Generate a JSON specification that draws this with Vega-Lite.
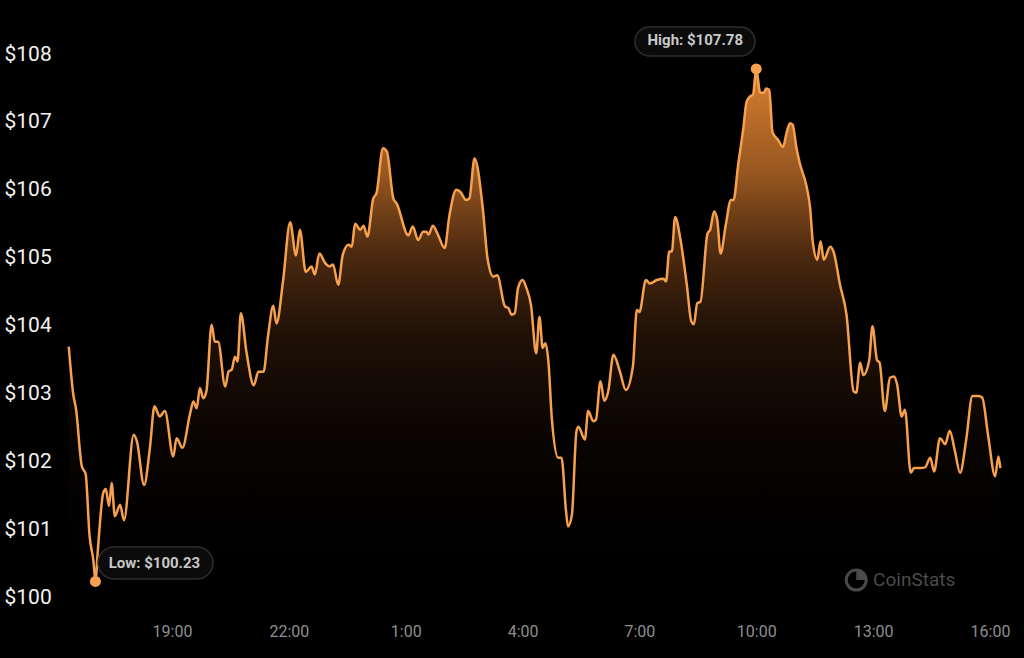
{
  "$schema": "https://vega.github.io/schema/vega-lite/v6.json",
  "width": 932,
  "height": 543,
  "autosize": {"type": "none"},
  "padding": {"left": 69, "top": 54, "right": 23, "bottom": 61},
  "background": "#000000",
  "config": {"view": {"stroke": null}, "font": "Roboto"},
  "datasets": {
    "price": [
      {"t": "2024-05-01T16:21", "price": 103.69},
      {"t": "2024-05-01T16:28", "price": 102.98},
      {"t": "2024-05-01T16:32", "price": 102.78},
      {"t": "2024-05-01T16:41", "price": 101.93},
      {"t": "2024-05-01T16:47", "price": 101.81},
      {"t": "2024-05-01T16:53", "price": 100.90},
      {"t": "2024-05-01T16:59", "price": 100.53},
      {"t": "2024-05-01T17:02", "price": 100.23},
      {"t": "2024-05-01T17:06", "price": 100.72},
      {"t": "2024-05-01T17:14", "price": 101.53},
      {"t": "2024-05-01T17:18", "price": 101.59},
      {"t": "2024-05-01T17:23", "price": 101.34},
      {"t": "2024-05-01T17:27", "price": 101.68},
      {"t": "2024-05-01T17:32", "price": 101.19},
      {"t": "2024-05-01T17:40", "price": 101.36},
      {"t": "2024-05-01T17:46", "price": 101.13},
      {"t": "2024-05-01T18:01", "price": 102.39},
      {"t": "2024-05-01T18:06", "price": 102.29},
      {"t": "2024-05-01T18:17", "price": 101.65},
      {"t": "2024-05-01T18:26", "price": 102.20},
      {"t": "2024-05-01T18:33", "price": 102.81},
      {"t": "2024-05-01T18:41", "price": 102.66},
      {"t": "2024-05-01T18:49", "price": 102.74},
      {"t": "2024-05-01T19:02", "price": 102.07},
      {"t": "2024-05-01T19:07", "price": 102.34},
      {"t": "2024-05-01T19:16", "price": 102.20},
      {"t": "2024-05-01T19:28", "price": 102.71},
      {"t": "2024-05-01T19:33", "price": 102.88},
      {"t": "2024-05-01T19:38", "price": 102.78},
      {"t": "2024-05-01T19:43", "price": 103.08},
      {"t": "2024-05-01T19:48", "price": 102.93},
      {"t": "2024-05-01T19:53", "price": 103.03},
      {"t": "2024-05-01T20:01", "price": 104.01},
      {"t": "2024-05-01T20:06", "price": 103.76},
      {"t": "2024-05-01T20:11", "price": 103.76},
      {"t": "2024-05-01T20:22", "price": 103.10},
      {"t": "2024-05-01T20:27", "price": 103.32},
      {"t": "2024-05-01T20:32", "price": 103.35},
      {"t": "2024-05-01T20:37", "price": 103.54},
      {"t": "2024-05-01T20:41", "price": 103.47},
      {"t": "2024-05-01T20:46", "price": 104.18},
      {"t": "2024-05-01T20:55", "price": 103.59},
      {"t": "2024-05-01T21:06", "price": 103.12},
      {"t": "2024-05-01T21:13", "price": 103.32},
      {"t": "2024-05-01T21:21", "price": 103.32},
      {"t": "2024-05-01T21:28", "price": 103.85},
      {"t": "2024-05-01T21:36", "price": 104.29},
      {"t": "2024-05-01T21:41", "price": 104.03},
      {"t": "2024-05-01T21:51", "price": 104.65},
      {"t": "2024-05-01T22:02", "price": 105.52},
      {"t": "2024-05-01T22:11", "price": 105.03},
      {"t": "2024-05-01T22:17", "price": 105.41},
      {"t": "2024-05-01T22:26", "price": 104.79},
      {"t": "2024-05-01T22:35", "price": 104.87},
      {"t": "2024-05-01T22:40", "price": 104.75},
      {"t": "2024-05-01T22:47", "price": 105.06},
      {"t": "2024-05-01T22:56", "price": 104.92},
      {"t": "2024-05-01T23:03", "price": 104.87},
      {"t": "2024-05-01T23:08", "price": 104.90},
      {"t": "2024-05-01T23:16", "price": 104.60},
      {"t": "2024-05-01T23:23", "price": 105.04},
      {"t": "2024-05-01T23:32", "price": 105.19},
      {"t": "2024-05-01T23:37", "price": 105.16},
      {"t": "2024-05-01T23:42", "price": 105.50},
      {"t": "2024-05-01T23:50", "price": 105.41},
      {"t": "2024-05-01T23:55", "price": 105.47},
      {"t": "2024-05-02T00:01", "price": 105.31},
      {"t": "2024-05-02T00:10", "price": 105.87},
      {"t": "2024-05-02T00:15", "price": 105.95},
      {"t": "2024-05-02T00:25", "price": 106.61},
      {"t": "2024-05-02T00:31", "price": 106.56},
      {"t": "2024-05-02T00:41", "price": 105.87},
      {"t": "2024-05-02T00:46", "price": 105.80},
      {"t": "2024-05-02T01:04", "price": 105.33},
      {"t": "2024-05-02T01:11", "price": 105.46},
      {"t": "2024-05-02T01:19", "price": 105.26},
      {"t": "2024-05-02T01:27", "price": 105.38},
      {"t": "2024-05-02T01:32", "price": 105.38},
      {"t": "2024-05-02T01:35", "price": 105.34},
      {"t": "2024-05-02T01:42", "price": 105.47},
      {"t": "2024-05-02T01:50", "price": 105.33},
      {"t": "2024-05-02T02:00", "price": 105.14},
      {"t": "2024-05-02T02:07", "price": 105.60},
      {"t": "2024-05-02T02:18", "price": 106.00},
      {"t": "2024-05-02T02:24", "price": 105.97},
      {"t": "2024-05-02T02:33", "price": 105.85},
      {"t": "2024-05-02T02:38", "price": 105.87},
      {"t": "2024-05-02T02:46", "price": 106.46},
      {"t": "2024-05-02T02:59", "price": 105.70},
      {"t": "2024-05-02T03:06", "price": 104.99},
      {"t": "2024-05-02T03:15", "price": 104.72},
      {"t": "2024-05-02T03:21", "price": 104.74},
      {"t": "2024-05-02T03:33", "price": 104.28},
      {"t": "2024-05-02T03:38", "price": 104.26},
      {"t": "2024-05-02T03:43", "price": 104.16},
      {"t": "2024-05-02T03:48", "price": 104.18},
      {"t": "2024-05-02T03:53", "price": 104.55},
      {"t": "2024-05-02T04:00", "price": 104.67},
      {"t": "2024-05-02T04:06", "price": 104.55},
      {"t": "2024-05-02T04:13", "price": 104.30},
      {"t": "2024-05-02T04:21", "price": 103.59},
      {"t": "2024-05-02T04:26", "price": 104.13},
      {"t": "2024-05-02T04:31", "price": 103.67},
      {"t": "2024-05-02T04:35", "price": 103.74},
      {"t": "2024-05-02T04:40", "price": 103.45},
      {"t": "2024-05-02T04:45", "price": 102.64},
      {"t": "2024-05-02T04:55", "price": 102.05},
      {"t": "2024-05-02T05:00", "price": 102.05},
      {"t": "2024-05-02T05:07", "price": 101.26},
      {"t": "2024-05-02T05:10", "price": 101.04},
      {"t": "2024-05-02T05:16", "price": 101.21},
      {"t": "2024-05-02T05:23", "price": 102.44},
      {"t": "2024-05-02T05:26", "price": 102.51},
      {"t": "2024-05-02T05:36", "price": 102.32},
      {"t": "2024-05-02T05:41", "price": 102.74},
      {"t": "2024-05-02T05:49", "price": 102.59},
      {"t": "2024-05-02T05:53", "price": 102.61},
      {"t": "2024-05-02T06:00", "price": 103.18},
      {"t": "2024-05-02T06:06", "price": 102.89},
      {"t": "2024-05-02T06:12", "price": 103.03},
      {"t": "2024-05-02T06:20", "price": 103.57},
      {"t": "2024-05-02T06:30", "price": 103.32},
      {"t": "2024-05-02T06:39", "price": 103.05},
      {"t": "2024-05-02T06:50", "price": 103.40},
      {"t": "2024-05-02T06:56", "price": 104.23},
      {"t": "2024-05-02T07:00", "price": 104.20},
      {"t": "2024-05-02T07:10", "price": 104.67},
      {"t": "2024-05-02T07:16", "price": 104.62},
      {"t": "2024-05-02T07:27", "price": 104.67},
      {"t": "2024-05-02T07:37", "price": 104.69},
      {"t": "2024-05-02T07:41", "price": 104.65},
      {"t": "2024-05-02T07:46", "price": 105.09},
      {"t": "2024-05-02T07:50", "price": 105.09},
      {"t": "2024-05-02T07:55", "price": 105.60},
      {"t": "2024-05-02T08:03", "price": 105.28},
      {"t": "2024-05-02T08:13", "price": 104.60},
      {"t": "2024-05-02T08:20", "price": 104.06},
      {"t": "2024-05-02T08:24", "price": 104.02},
      {"t": "2024-05-02T08:29", "price": 104.33},
      {"t": "2024-05-02T08:34", "price": 104.35},
      {"t": "2024-05-02T08:45", "price": 105.36},
      {"t": "2024-05-02T08:49", "price": 105.41},
      {"t": "2024-05-02T08:55", "price": 105.68},
      {"t": "2024-05-02T09:00", "price": 105.55},
      {"t": "2024-05-02T09:05", "price": 105.06},
      {"t": "2024-05-02T09:13", "price": 105.48},
      {"t": "2024-05-02T09:21", "price": 105.85},
      {"t": "2024-05-02T09:25", "price": 105.85},
      {"t": "2024-05-02T09:32", "price": 106.36},
      {"t": "2024-05-02T09:40", "price": 106.90},
      {"t": "2024-05-02T09:45", "price": 107.29},
      {"t": "2024-05-02T09:50", "price": 107.37},
      {"t": "2024-05-02T09:55", "price": 107.40},
      {"t": "2024-05-02T10:00", "price": 107.78},
      {"t": "2024-05-02T10:06", "price": 107.43},
      {"t": "2024-05-02T10:12", "price": 107.43},
      {"t": "2024-05-02T10:15", "price": 107.49},
      {"t": "2024-05-02T10:20", "price": 107.47},
      {"t": "2024-05-02T10:25", "price": 106.85},
      {"t": "2024-05-02T10:34", "price": 106.73},
      {"t": "2024-05-02T10:41", "price": 106.63},
      {"t": "2024-05-02T10:47", "price": 106.85},
      {"t": "2024-05-02T10:52", "price": 106.98},
      {"t": "2024-05-02T10:56", "price": 106.96},
      {"t": "2024-05-02T11:02", "price": 106.61},
      {"t": "2024-05-02T11:07", "price": 106.39},
      {"t": "2024-05-02T11:17", "price": 106.07},
      {"t": "2024-05-02T11:23", "price": 105.73},
      {"t": "2024-05-02T11:27", "price": 105.24},
      {"t": "2024-05-02T11:34", "price": 104.97},
      {"t": "2024-05-02T11:39", "price": 105.24},
      {"t": "2024-05-02T11:44", "price": 104.97},
      {"t": "2024-05-02T11:54", "price": 105.16},
      {"t": "2024-05-02T11:59", "price": 105.09},
      {"t": "2024-05-02T12:09", "price": 104.60},
      {"t": "2024-05-02T12:19", "price": 104.16},
      {"t": "2024-05-02T12:30", "price": 103.03},
      {"t": "2024-05-02T12:34", "price": 103.01},
      {"t": "2024-05-02T12:40", "price": 103.45},
      {"t": "2024-05-02T12:45", "price": 103.27},
      {"t": "2024-05-02T12:54", "price": 103.49},
      {"t": "2024-05-02T12:59", "price": 103.99},
      {"t": "2024-05-02T13:06", "price": 103.49},
      {"t": "2024-05-02T13:10", "price": 103.45},
      {"t": "2024-05-02T13:18", "price": 102.74},
      {"t": "2024-05-02T13:26", "price": 103.23},
      {"t": "2024-05-02T13:32", "price": 103.25},
      {"t": "2024-05-02T13:37", "price": 103.13},
      {"t": "2024-05-02T13:44", "price": 102.66},
      {"t": "2024-05-02T13:49", "price": 102.76},
      {"t": "2024-05-02T13:58", "price": 101.83},
      {"t": "2024-05-02T14:03", "price": 101.90},
      {"t": "2024-05-02T14:12", "price": 101.90},
      {"t": "2024-05-02T14:20", "price": 101.91},
      {"t": "2024-05-02T14:28", "price": 102.05},
      {"t": "2024-05-02T14:34", "price": 101.85},
      {"t": "2024-05-02T14:43", "price": 102.34},
      {"t": "2024-05-02T14:51", "price": 102.25},
      {"t": "2024-05-02T14:58", "price": 102.45},
      {"t": "2024-05-02T15:06", "price": 102.15},
      {"t": "2024-05-02T15:14", "price": 101.83},
      {"t": "2024-05-02T15:23", "price": 102.29},
      {"t": "2024-05-02T15:33", "price": 102.96},
      {"t": "2024-05-02T15:42", "price": 102.96},
      {"t": "2024-05-02T15:48", "price": 102.94},
      {"t": "2024-05-02T15:57", "price": 102.39},
      {"t": "2024-05-02T16:08", "price": 101.78},
      {"t": "2024-05-02T16:13", "price": 102.07},
      {"t": "2024-05-02T16:16", "price": 101.90}
    ],
    "extremes": [
      {"t": "2024-05-01T17:02", "price": 100.23, "kind": "low", "label": "Low: $100.23"},
      {"t": "2024-05-02T10:00", "price": 107.78, "kind": "high", "label": "High: $107.78"}
    ],
    "brand": [{"name": "CoinStats"}]
  },
  "layer": [
    {
      "data": {"name": "price"},
      "mark": {
        "type": "area",
        "interpolate": "monotone",
        "clip": true,
        "color": {
          "gradient": "linear",
          "x1": 0, "y1": 0, "x2": 0, "y2": 1,
          "stops": [
            {"offset": 0, "color": "rgba(245,145,55,0.88)"},
            {"offset": 0.2, "color": "rgba(235,135,50,0.64)"},
            {"offset": 0.35, "color": "rgba(220,120,45,0.35)"},
            {"offset": 0.5, "color": "rgba(200,105,40,0.16)"},
            {"offset": 0.7, "color": "rgba(180,90,30,0.05)"},
            {"offset": 1, "color": "rgba(0,0,0,0)"}
          ]
        }
      },
      "encoding": {
        "x": {
          "field": "t",
          "type": "temporal",
          "scale": {
            "domain": [
              {"year": 2024, "month": 5, "date": 1, "hours": 16, "minutes": 21, "seconds": 20},
              {"year": 2024, "month": 5, "date": 2, "hours": 16, "minutes": 17}
            ]
          },
          "axis": {
            "values": [
              {"year": 2024, "month": 5, "date": 1, "hours": 19},
              {"year": 2024, "month": 5, "date": 1, "hours": 22},
              {"year": 2024, "month": 5, "date": 2, "hours": 1},
              {"year": 2024, "month": 5, "date": 2, "hours": 4},
              {"year": 2024, "month": 5, "date": 2, "hours": 7},
              {"year": 2024, "month": 5, "date": 2, "hours": 10},
              {"year": 2024, "month": 5, "date": 2, "hours": 13},
              {"year": 2024, "month": 5, "date": 2, "hours": 16}
            ],
            "format": "%-H:%M",
            "title": null,
            "grid": false,
            "domain": false,
            "ticks": false,
            "tickSize": 0,
            "labelFlush": false,
            "labelColor": "#8e8e8e",
            "labelFont": "Roboto",
            "labelFontSize": 16,
            "labelPadding": 26,
            "labelBaseline": "top"
          }
        },
        "y": {
          "field": "price",
          "type": "quantitative",
          "scale": {"domain": [100, 108], "nice": false, "zero": false},
          "axis": {
            "values": [100, 101, 102, 103, 104, 105, 106, 107, 108],
            "format": "$.0f",
            "title": null,
            "grid": false,
            "domain": false,
            "ticks": false,
            "tickSize": 0,
            "labelFlush": false,
            "labelAlign": "left",
            "labelBaseline": "middle",
            "labelPadding": 65,
            "labelColor": "#f2f2f2",
            "labelFont": "Roboto",
            "labelFontSize": 21
          }
        },
        "y2": {"datum": 100}
      }
    },
    {
      "data": {"name": "price"},
      "mark": {"type": "line", "interpolate": "monotone", "color": "#f7a04d", "strokeWidth": 2.5},
      "encoding": {
        "x": {"field": "t", "type": "temporal"},
        "y": {"field": "price", "type": "quantitative"}
      }
    },
    {
      "data": {"name": "extremes"},
      "mark": {"type": "point", "filled": true, "fill": "#0b0b0b", "stroke": "#2e2e2e", "strokeWidth": 1.5, "opacity": 1, "size": 40000},
      "encoding": {
        "x": {"field": "t", "type": "temporal"},
        "y": {"field": "price", "type": "quantitative"},
        "shape": {
          "field": "kind",
          "type": "nominal",
          "legend": null,
          "scale": {
            "domain": ["low", "high"],
            "range": [
              "M 0.186 -0.344 L 1.016 -0.344 C 1.1044 -0.344 1.176 -0.2724 1.176 -0.184 C 1.176 -0.0956 1.1044 -0.024 1.016 -0.024 L 0.186 -0.024 C 0.0976 -0.024 0.026 -0.0956 0.026 -0.184 C 0.026 -0.2724 0.0976 -0.344 0.186 -0.344 Z",
              "M -1.068 -0.419 L -0.158 -0.419 C -0.0779 -0.419 -0.013 -0.3541 -0.013 -0.274 C -0.013 -0.1939 -0.0779 -0.129 -0.158 -0.129 L -1.068 -0.129 C -1.1481 -0.129 -1.213 -0.1939 -1.213 -0.274 C -1.213 -0.3541 -1.1481 -0.419 -1.068 -0.419 Z"
            ]
          }
        }
      }
    },
    {
      "data": {"name": "extremes"},
      "transform": [{"filter": "datum.kind === 'low'"}],
      "mark": {"type": "text", "dx": 59, "dy": -18.5, "align": "center", "baseline": "middle", "font": "Roboto", "fontSize": 15, "fontWeight": "bold", "color": "#c8c8c8"},
      "encoding": {
        "x": {"field": "t", "type": "temporal"},
        "y": {"field": "price", "type": "quantitative"},
        "text": {"field": "label"}
      }
    },
    {
      "data": {"name": "extremes"},
      "transform": [{"filter": "datum.kind === 'high'"}],
      "mark": {"type": "text", "dx": -61, "dy": -28.5, "align": "center", "baseline": "middle", "font": "Roboto", "fontSize": 15, "fontWeight": "bold", "color": "#c8c8c8"},
      "encoding": {
        "x": {"field": "t", "type": "temporal"},
        "y": {"field": "price", "type": "quantitative"},
        "text": {"field": "label"}
      }
    },
    {
      "data": {"name": "extremes"},
      "mark": {"type": "point", "shape": "circle", "filled": true, "opacity": 1, "size": 121, "color": "#f7a04d"},
      "encoding": {
        "x": {"field": "t", "type": "temporal"},
        "y": {"field": "price", "type": "quantitative"}
      }
    },
    {
      "data": {"name": "brand"},
      "mark": {"type": "point", "shape": "circle", "filled": false, "opacity": 1, "size": 400, "stroke": "#4a4a4a", "strokeWidth": 3},
      "encoding": {
        "x": {"datum": {"year": 2024, "month": 5, "date": 2, "hours": 12, "minutes": 34}},
        "y": {"datum": 100.25}
      }
    },
    {
      "data": {"name": "brand"},
      "mark": {"type": "point", "shape": "M 0 0 L 0 -1 C 0.5523 -1 1 -0.5523 1 0 Z", "filled": true, "opacity": 1, "size": 441, "color": "#4a4a4a"},
      "encoding": {
        "x": {"datum": {"year": 2024, "month": 5, "date": 2, "hours": 12, "minutes": 34}},
        "y": {"datum": 100.25}
      }
    },
    {
      "data": {"name": "brand"},
      "mark": {"type": "text", "align": "left", "baseline": "middle", "font": "Roboto", "fontSize": 19, "color": "#4a4a4a"},
      "encoding": {
        "x": {"datum": {"year": 2024, "month": 5, "date": 2, "hours": 13, "minutes": 0}},
        "y": {"datum": 100.25},
        "text": {"field": "name"}
      }
    }
  ]
}
